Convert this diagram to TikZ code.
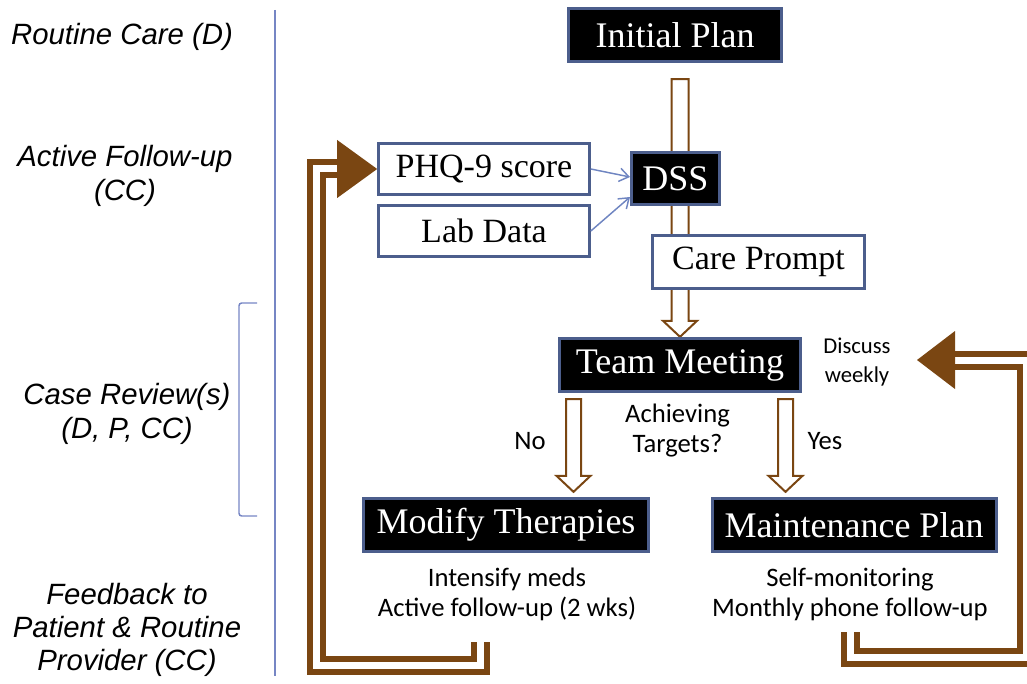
\documentclass[tikz,border=0pt]{standalone}
\usepackage{fontspec}
\setmainfont{Liberation Serif}
\newfontfamily\calibrifont{Carlito}
\newfontfamily\arialfont{Liberation Sans}
\usetikzlibrary{calc,arrows.meta,backgrounds}

\definecolor{loopbrown}{RGB}{122,70,18}
\definecolor{boxblue}{RGB}{76,94,140}
\definecolor{linkblue}{RGB}{111,133,193}
\definecolor{rulerblue}{RGB}{118,134,196}

% hollow block arrow: #1 start of shaft, #2 tip, #3 half width of shaft
\newcommand{\hollowarrow}[3]{%
  \draw [hollowarr] ($(#2 |- #1)+(-#3,0)$) -- ($(#2)+(-#3,-16)$) -- ($(#2)+(-17,-16)$) -- (#2) -- ($(#2)+(17,-16)$) -- ($(#2)+(#3,-16)$) -- ($(#2 |- #1)+(#3,0)$) -- cycle ;}

\begin{document}
\begin{tikzpicture}[x=0.75pt,y=0.75pt,yscale=-1,xscale=1,
    darkbox/.style={draw=boxblue, line width=2.25pt, fill=black, text=white, inner sep=0pt, font=\fontsize{27}{30}\selectfont},
    lightbox/.style={draw=boxblue, line width=2.25pt, fill=white, text=black, inner sep=0pt, font=\fontsize{25.5}{30}\selectfont},
    phasetext/.style={inner sep=0.75pt, align=center, font=\arialfont\itshape\fontsize{22}{25}\selectfont},
    notetext/.style={inner sep=0.75pt, align=center, font=\calibrifont\fontsize{20}{22.5}\selectfont},
    hollowarr/.style={draw=loopbrown, line width=1.5pt, fill=white, line join=miter},
    loopband/.style={draw=loopbrown, line width=4.5pt, double=white, double distance=5.25pt, line join=miter},
    loophead/.style={fill=loopbrown, draw=none},
    linkarrow/.style={draw=linkblue, line width=1.1pt, -{Straight Barb[length=7pt,width=10pt]}},
    rulerline/.style={draw=rulerblue, line width=1.1pt}]
    \useasboundingbox (0,0) rectangle (1027,684);
    \clip (0,0) rectangle (1027,684);

    % Text Node
    \draw (122,37) node (routine) [phasetext] {Routine Care (D)};
    % Text Node
    \draw (125,176) node (active) [phasetext] {Active Follow-up\\(CC)};
    % Text Node
    \draw (127,414) node (review) [phasetext] {Case Review(s)\\(D, P, CC)};
    % Text Node
    \draw (127,630) node (feedback) [phasetext] {Feedback to\\Patient \& Routine\\Provider (CC)};

    %Straight Lines [id:ruler]
    \draw [rulerline] (275,10) -- (275,676) ;
    %Shape: Bracket [id:bracket]
    \draw [rulerline, rounded corners=2] (257,303) -- (239,303) -- (239,516) -- (257,516) ;

    %Shape: Rectangle [id:init]
    \draw (675,35) node (init) [darkbox, minimum width=160pt, minimum height=40pt] {Initial Plan};
    %Shape: Rectangle [id:dss]
    \draw (675.5,178.5) node (dss) [darkbox, minimum width=66pt, minimum height=39pt] {DSS};
    %Shape: Rectangle [id:phq]
    \draw (484,169) node (phq) [lightbox, minimum width=158pt, minimum height=38pt] {PHQ-9 score};
    %Shape: Rectangle [id:lab]
    \draw (484,231) node (lab) [lightbox, minimum width=158pt, minimum height=38pt] {Lab Data};
    %Shape: Rectangle [id:care]
    \draw (758.5,262) node (care) [lightbox, minimum width=159pt, minimum height=39pt] {Care Prompt};
    %Shape: Rectangle [id:tm]
    \draw (680,365) node (tm) [darkbox, minimum width=181pt, minimum height=40pt] {Team Meeting};
    %Shape: Rectangle [id:mod]
    \draw (506,525) node (mod) [darkbox, minimum width=214pt, minimum height=40pt] {Modify Therapies};
    %Shape: Rectangle [id:maint]
    \draw (854,525) node (maint) [darkbox, minimum width=213pt, minimum height=40pt] {Maintenance Plan};

    % Text Node
    \draw (677.5,431) node (targets) [notetext] {Achieving\\Targets?};
    % Text Node
    \draw (530,441) node (no) [notetext] {No};
    % Text Node
    \draw (825,441) node (yes) [notetext] {Yes};
    % Text Node
    \draw (857,362) node (disc) [notetext, font=\calibrifont\fontsize{17}{21.5}\selectfont] {Discuss\\weekly};
    % Text Node
    \draw (507,594) node (intens) [notetext] {Intensify meds\\Active follow-up (2 wks)};
    % Text Node
    \draw (850,594) node (selfmon) [notetext] {Self-monitoring\\Monthly phone follow-up};

    %Straight Lines [id:phq2dss]
    \draw [linkarrow] (phq.east) -- ($(dss.west)+(0,-1.5)$) ;
    %Straight Lines [id:lab2dss]
    \draw [linkarrow] (lab.east) -- ($(dss.west)+(0,18.5)$) ;

    \coordinate (planTop) at ($(init.south -| tm.north)+(0,16)$);
    \coordinate (noTip) at ($(mod.north)+(67.5,-5)$);
    \coordinate (noTop) at ($(tm.south -| noTip)+(0,6)$);
    \coordinate (yesTip) at ($(maint.north)+(-68.5,-5)$);
    \coordinate (yesTop) at ($(tm.south -| yesTip)+(0,6)$);
    \coordinate (fbStart) at (480,642);
    \coordinate (mpStart) at (850,632);
    \coordinate (discTip) at (917,360);

    \begin{pgfonlayer}{background}
    %Shape: Block Arrow [id:plan2tm]
    \hollowarrow{planTop}{tm.north}{8.5}
    %Shape: Block Arrow [id:tm2mod]
    \hollowarrow{noTop}{noTip}{7.5}
    %Shape: Block Arrow [id:tm2maint]
    \hollowarrow{yesTop}{yesTip}{7.5}

    %Shape: Loop [id:feedback loop]
    \draw [loopband] (fbStart) |- (316.5,665.5) |- ($(phq.west)+(-40,0)$) ;
    \fill [loophead] ($(phq.west)+(-40,-29)$) -- (phq.west) -- ($(phq.west)+(-40,29)$) -- cycle ;
    %Shape: Loop [id:weekly loop]
    \draw [loopband] (mpStart) |- (1026.5,657.5) |- ($(discTip)+(38,0)$) ;
    \fill [loophead] ($(discTip)+(38,-29)$) -- (discTip) -- ($(discTip)+(38,29)$) -- cycle ;
    \end{pgfonlayer}

\end{tikzpicture}
\end{document}
